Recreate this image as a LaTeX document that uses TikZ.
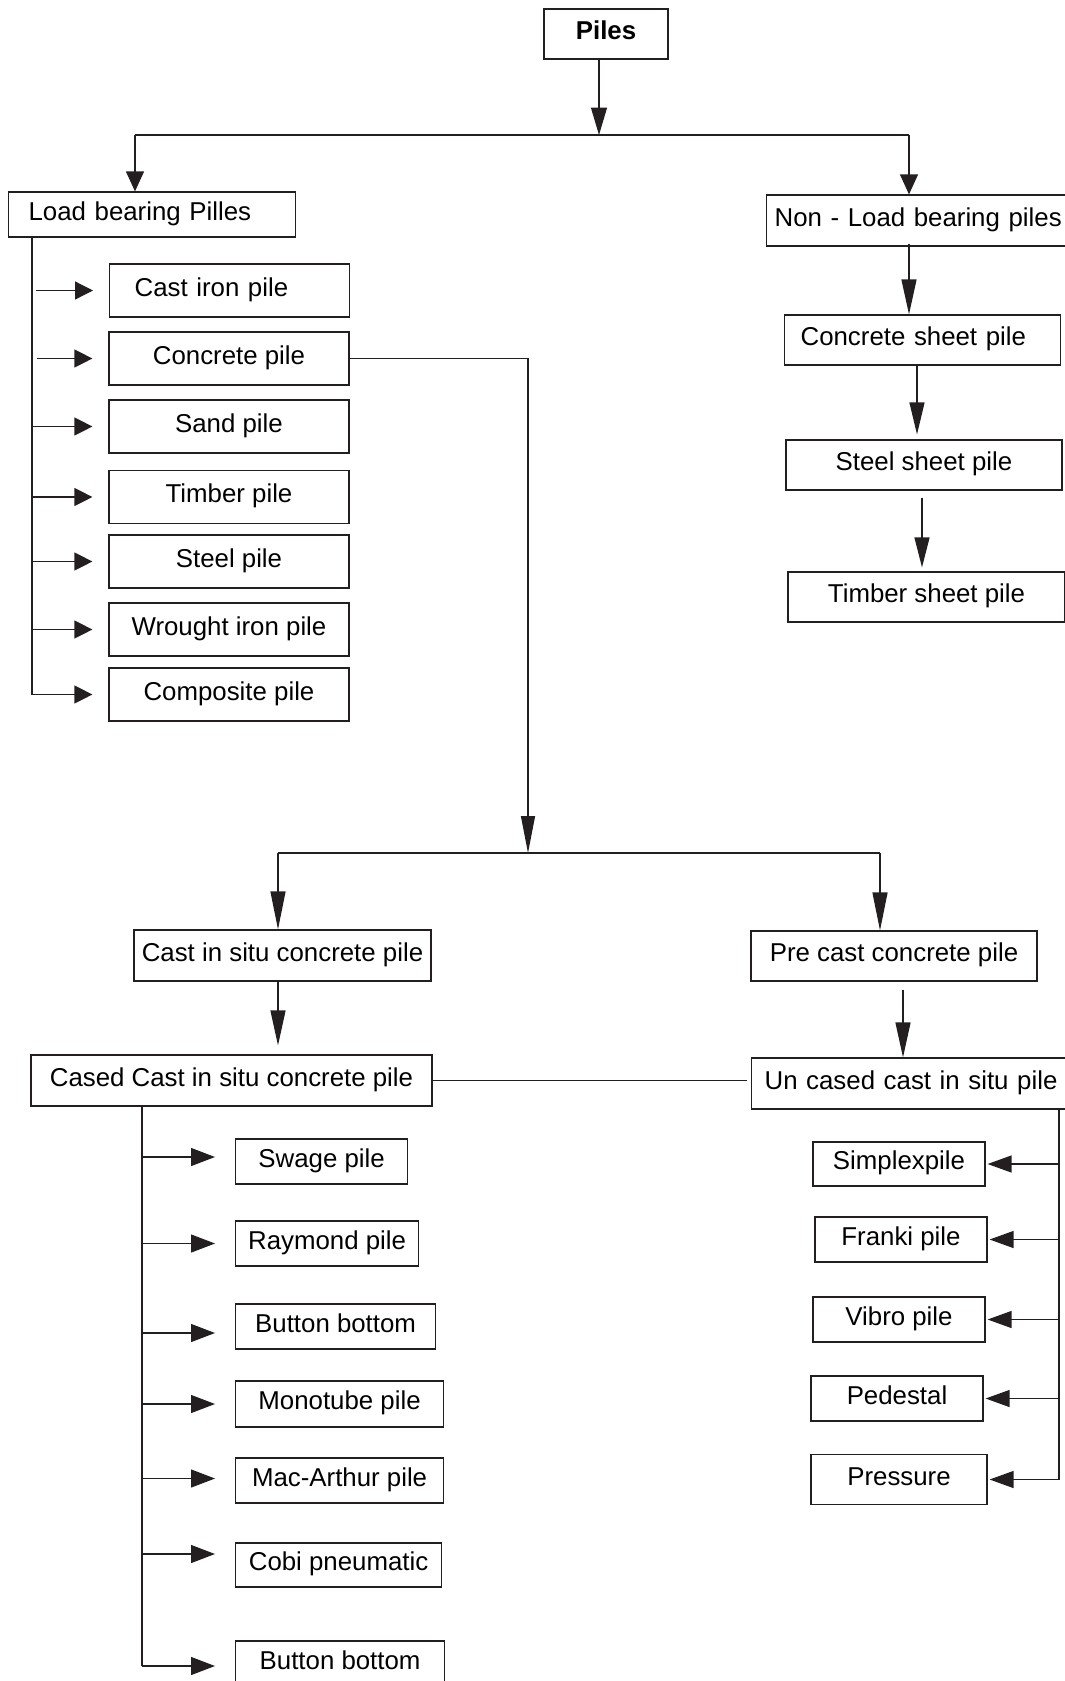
\documentclass[tikz,border=0pt]{standalone}
\usepackage{fontspec}
\setmainfont{Liberation Sans}
\usetikzlibrary{arrows.meta,positioning}
\definecolor{pileink}{RGB}{35,31,32}

\tikzset{
    pilebox/.style 2 args={draw=pileink, line width=0.7pt, inner sep=0pt,
        minimum width=#1, minimum height=#2,
        text height=11pt, text depth=4.5pt,
        font=\fontsize{14.7}{17}\selectfont},
    leftbox/.style n args={3}{draw=pileink, line width=0.7pt, anchor=west,
        inner xsep=#1, inner ysep=0pt, text width=#2, align=left,
        minimum height=#3, text height=11pt, text depth=4.5pt,
        font=\fontsize{14.7}{17}\selectfont},
    link/.style={draw=pileink, line width=0.7pt},
    piletip/.style 2 args={link, -{Triangle[length=#1,width=#2]}},
}

\begin{document}
\begin{tikzpicture}[x=0.02cm, y=-0.02cm]
    \useasboundingbox (0,0) rectangle (1065,1681);

    \node[pilebox={2.48cm}{1cm}, font=\bfseries\fontsize{14.7}{17}\selectfont] (piles) at (606,34) {Piles};
    \node[leftbox={0.4cm}{4.94cm}{0.9cm}] (loadbearing) at (8,214.5) {Load bearing Pilles};
    \node[leftbox={0.16cm}{6cm}{1.02cm}] (nonload) at (766,220.5) {Non - Load bearing piles};

    \node[leftbox={0.5cm}{3.8cm}{1.06cm}] (castiron) at (109,290.5) {Cast iron pile};
    \node[pilebox={4.8cm}{1.06cm}] (concrete) at (229,358.5) {Concrete pile};
    \node[pilebox={4.8cm}{1.06cm}] (sand) at (229,426.5) {Sand pile};
    \node[pilebox={4.8cm}{1.06cm}] (timber) at (229,497) {Timber pile};
    \node[pilebox={4.8cm}{1.06cm}] (steel) at (229,561.5) {Steel pile};
    \node[pilebox={4.8cm}{1.06cm}] (wrought) at (229,629.5) {Wrought iron pile};
    \node[pilebox={4.8cm}{1.06cm}] (composite) at (229,694.5) {Composite pile};

    \node[leftbox={0.32cm}{4.88cm}{1cm}] (concsheet) at (784,340) {Concrete sheet pile};
    \node[pilebox={5.52cm}{1cm}] (steelsheet) at (924,465) {Steel sheet pile};
    \node[pilebox={5.54cm}{1cm}] (timbersheet) at (926.5,597) {Timber sheet pile};

    \node[pilebox={5.94cm}{1.02cm}] (castsitu) at (282.5,955.5) {Cast in situ concrete pile};
    \node[pilebox={5.72cm}{1cm}] (precast) at (894,956) {Pre cast concrete pile};
    \node[pilebox={8.02cm}{1.02cm}] (cased) at (231.5,1080.5) {Cased Cast in situ concrete pile};
    \node[leftbox={0.26cm}{6cm}{1.02cm}] (uncased) at (751,1083.5) {Un cased cast in situ pile};

    \node[pilebox={3.44cm}{0.9cm}, anchor=west] (swage) at (235,1161.5) {Swage pile};
    \node[pilebox={3.66cm}{0.9cm}, anchor=west] (raymond) at (235,1243.5) {Raymond pile};
    \node[pilebox={4cm}{0.9cm}, anchor=west] (button) at (235,1326.5) {Button bottom};
    \node[pilebox={4.16cm}{0.92cm}, anchor=west] (monotube) at (235,1404) {Monotube pile};
    \node[pilebox={4.16cm}{0.9cm}, anchor=west] (macarthur) at (235,1480.5) {Mac-Arthur pile};
    \node[pilebox={4.12cm}{0.88cm}, anchor=west] (cobi) at (235,1565) {Cobi pneumatic};
    \node[pilebox={4.18cm}{0.9cm}, anchor=west] (buttonend) at (235,1663.5) {Button bottom};

    \node[pilebox={3.44cm}{0.88cm}] (simplex) at (899,1164) {Simplexpile};
    \node[pilebox={3.44cm}{0.9cm}] (franki) at (901,1239.5) {Franki pile};
    \node[pilebox={3.44cm}{0.9cm}] (vibro) at (899,1319.5) {Vibro pile};
    \node[pilebox={3.44cm}{0.9cm}] (pedestal) at (897,1398.5) {Pedestal};
    \node[pilebox={3.52cm}{1cm}] (pressure) at (899,1479.5) {Pressure};

    \coordinate (split) at (599,135);
    \coordinate (splitleft) at (135,135);
    \coordinate (splitright) at (909,135);
    \draw[piletip={0.55cm}{0.32cm}] (piles.south -| split) -- (split);
    \draw[link] (splitleft) -- (splitright);
    \draw[piletip={0.4cm}{0.36cm}] (splitleft) -- (splitleft |- loadbearing.north);
    \draw[piletip={0.4cm}{0.36cm}] (splitright) -- (splitright |- nonload.north);

    \coordinate (loadtrunk) at (32,0);
    \draw[link] (loadbearing.south -| loadtrunk) -- (composite.west -| loadtrunk);
    \foreach \n/\gap in {castiron/0.08cm, concrete/0.1cm, sand/0cm, timber/0cm, steel/0cm, wrought/0cm, composite/0cm}
        \draw[piletip={0.36cm}{0.36cm}, shorten <=\gap, shorten >=0.32cm] (\n.west -| loadtrunk) -- (\n.west);

    \coordinate (sheetline) at (917,0);
    \coordinate (sheetline2) at (922,0);
    \draw[piletip={0.7cm}{0.3cm}, shorten <=-0.06cm] (nonload.south -| splitright) -- (concsheet.north -| splitright);
    \draw[piletip={0.64cm}{0.3cm}, shorten >=0.1cm] (concsheet.south -| sheetline) -- (steelsheet.north -| sheetline);
    \draw[piletip={0.6cm}{0.3cm}, shorten <=0.14cm, shorten >=0.08cm] (steelsheet.south -| sheetline2) -- (timbersheet.north -| sheetline2);

    \coordinate (split2) at (528,853);
    \coordinate (split2left) at (278,853);
    \coordinate (split2right) at (880,853);
    \draw[piletip={0.74cm}{0.28cm}] (concrete.east) -| (split2);
    \draw[link] (split2left) -- (split2right);
    \draw[piletip={0.76cm}{0.3cm}] (split2left) -- (split2left |- castsitu.north);
    \draw[piletip={0.76cm}{0.3cm}] (split2right) -- (split2right |- precast.north);

    \coordinate (pcdrop) at (903,0);
    \draw[piletip={0.7cm}{0.3cm}, shorten >=0.18cm] (castsitu.south -| split2left) -- (cased.north -| split2left);
    \draw[piletip={0.7cm}{0.3cm}, shorten <=0.16cm] (precast.south -| pcdrop) -- (uncased.north -| pcdrop);
    \draw[link, shorten >=0.08cm] (cased.east) -- (cased.east -| uncased.west);

    \coordinate (casedtrunk) at (142,0);
    \draw[link] (cased.south -| casedtrunk) -- ([yshift=-0.05cm]buttonend.west -| casedtrunk);
    \foreach \n/\dy in {swage/0.09cm, raymond/0cm, button/-0.13cm, monotube/0cm, macarthur/0.04cm, cobi/0.22cm, buttonend/-0.05cm} {
        \coordinate (tip\n) at ([yshift=\dy]\n.west);
        \draw[piletip={0.48cm}{0.36cm}, shorten >=0.4cm] (tip\n -| casedtrunk) -- (tip\n);
    }

    \coordinate (uncasedtrunk) at (1059,0);
    \draw[link] (uncased.south -| uncasedtrunk) -- (pressure.east -| uncasedtrunk);
    \foreach \n in {simplex, franki, vibro, pedestal, pressure}
        \draw[piletip={0.48cm}{0.34cm}, shorten >=0.04cm] (\n.east -| uncasedtrunk) -- (\n.east);
\end{tikzpicture}
\end{document}
